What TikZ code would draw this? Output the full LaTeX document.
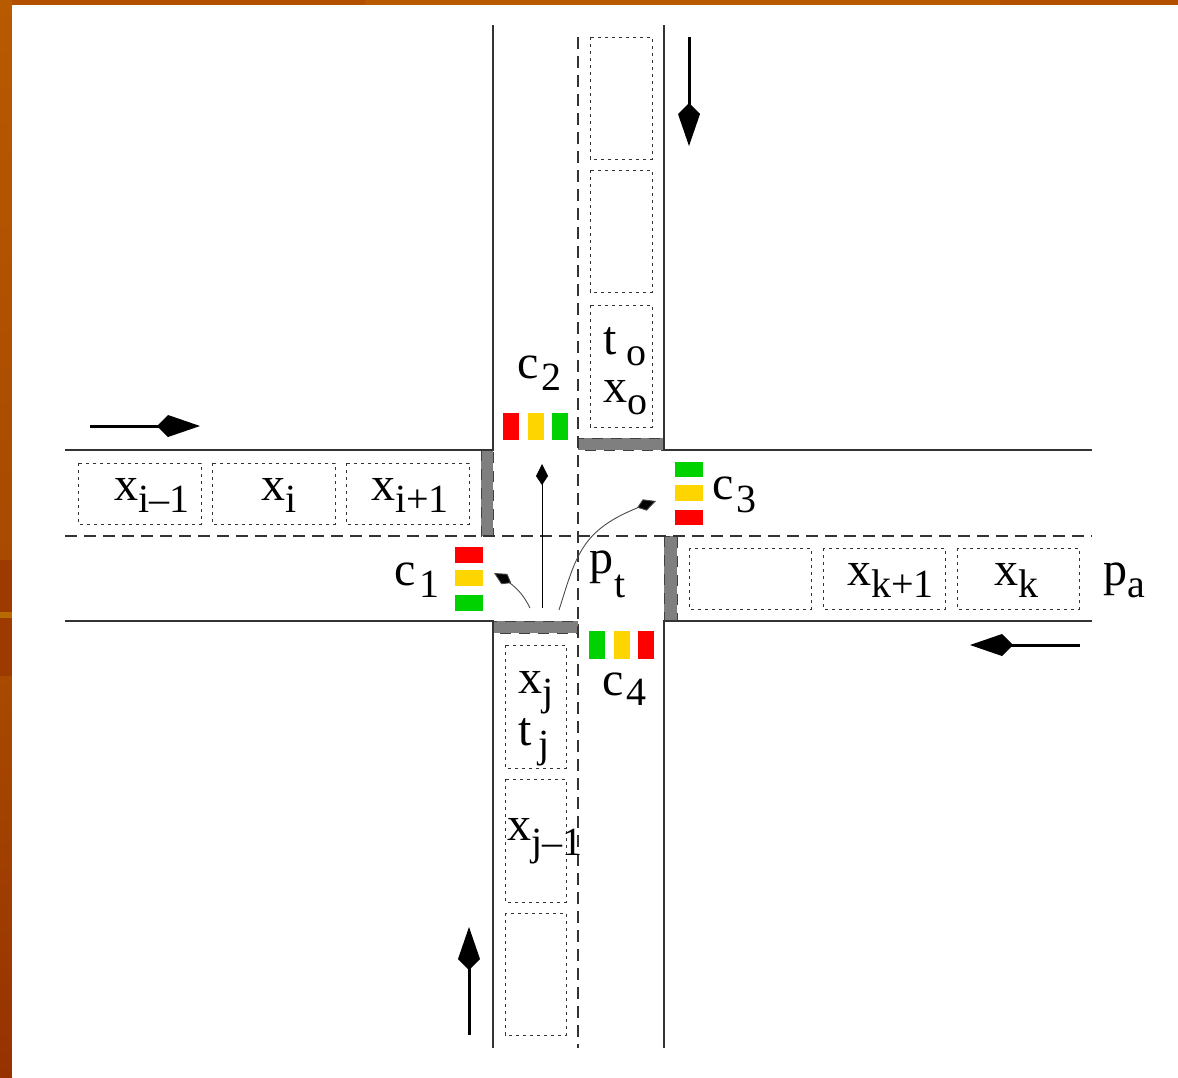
\documentclass[tikz,border=0pt]{standalone}
\usepackage{fontspec}
\setmainfont{Liberation Serif}
\usetikzlibrary{arrows.meta,bending}
\definecolor{bgt}{HTML}{B85A00}
\definecolor{bgo}{HTML}{B35000}
\definecolor{bgm}{HTML}{A84A00}
\definecolor{bgd}{HTML}{9C3A00}
\definecolor{bge}{HTML}{963200}
\definecolor{bgb}{HTML}{B86C00}
\definecolor{bgs}{HTML}{BA5A00}
\definecolor{tlred}{HTML}{FF0000}
\definecolor{tlyel}{HTML}{FFD500}
\definecolor{tlgrn}{HTML}{00D200}
\definecolor{stopg}{HTML}{7F7F7F}
\definecolor{roadc}{HTML}{333333}
\newcommand\subl[3]{\hspace{#1pt}\raisebox{-#2pt}{\fontsize{40}{40}\selectfont #3}}
\tikzset{
  x=1pt,y=-1pt,
  lab/.style={anchor=base west,inner sep=0pt,font=\fontsize{48}{48}\selectfont},
  road/.style={draw=roadc,line width=1.2pt},
  lane/.style={draw=roadc,line width=1.2pt,dash pattern=on 12pt off 7pt},
  stopbar/.style={fill=stopg,draw=black!75,line width=1pt,dash pattern=on 11pt off 8pt},
  cell/.style={draw=roadc,line width=1pt,dash pattern=on 3.2pt off 3.8pt},
  bigarrow/.style={draw=black,line width=3pt,-{Kite[length=43pt,width=22pt,inset=11pt,fill=black]}},
  thinarrow/.style={draw=black,line width=.9pt,-{Kite[length=21pt,width=12pt,inset=9pt,fill=black]}},
  curvearrow/.style={draw=black!70,line width=.9pt,-{Kite[length=20pt,width=12pt,inset=8pt,fill=black,flex=0.5]},shorten >=0pt},
  lampR/.style={fill=tlred,draw=none},
  lampY/.style={fill=tlyel,draw=none},
  lampG/.style={fill=tlgrn,draw=none}
}
\begin{document}
\begin{tikzpicture}
\useasboundingbox (0,0) rectangle (1178,1077);
% slide background
\fill[bgo] (0,0) rectangle (1178,1077);
\shade[top color=bgt,bottom color=bgm] (0,0) rectangle (12,560);
\fill[bgd] (0,560) rectangle (12,676);
\shade[top color=bgm,bottom color=bge] (0,676) rectangle (12,1077);
\fill[bgb] (0,612) rectangle (12,618);
\fill[bgs] (365,0) rectangle (1000,5);
\fill[white] (12,5) rectangle (1178,1077);
% stop bars
\path[stopbar] (578,438) rectangle (664,450);
\path[stopbar] (481,450) rectangle (493,536);
\path[stopbar] (664,536) rectangle (677,621);
\path[stopbar] (493,621) rectangle (578,633);
% roads
\draw[road] (493,25) -- (493,450) -- (65,450);
\draw[road] (664,25) -- (664,450) -- (1092,450);
\draw[road] (65,621) -- (493,621) -- (493,1048);
\draw[road] (1092,621) -- (664,621) -- (664,1048);
\draw[lane] (65,536) -- (1092,536);
\draw[lane] (578,37) -- (578,1048);
% cells
\foreach \n/\a/\b/\c/\d in {
 l1/78/463/201/524, l2/212/463/335/524, l3/346/463/469/524,
 r1/689/548/811/609, r2/823/548/945/609, r3/957/548/1079/609,
 t1/590/37/652/159, t2/590/170/652/292, t3/590/305/652/427,
 b1/505/645/566/768, b2/505/779/566/902, b3/505/913/566/1035}
  \path[cell] (\a,\b) rectangle (\c,\d);
% lights
\fill[lampR] (455,547) rectangle (483,563);
\fill[lampY] (455,570) rectangle (483,586);
\fill[lampG] (455,595) rectangle (483,611);
\fill[lampR] (503,413) rectangle (519,440);
\fill[lampY] (528,413) rectangle (544,440);
\fill[lampG] (552,413) rectangle (568,440);
\fill[lampG] (675,462) rectangle (703,477);
\fill[lampY] (675,485) rectangle (703,501);
\fill[lampR] (675,510) rectangle (703,525);
\fill[lampG] (589,631) rectangle (605,659);
\fill[lampY] (614,631) rectangle (630,659);
\fill[lampR] (638,631) rectangle (654,659);
% direction arrows
\coordinate (ea) at (90,426); \coordinate (eb) at (200,426);
\coordinate (sa) at (689,37); \coordinate (sb) at (689,146);
\coordinate (na) at (469,1035); \coordinate (nb) at (469,927);
\coordinate (wa) at (1080,645); \coordinate (wb) at (970,645);
\draw[bigarrow] (ea) -- (eb);
\draw[bigarrow] (sa) -- (sb);
\draw[bigarrow] (na) -- (nb);
\draw[bigarrow] (wa) -- (wb);
% turning arrows
\coordinate (ca) at (542,608); \coordinate (cb) at (542,464);
\coordinate (la) at (530,608); \coordinate (lb) at (494,573);
\coordinate (ra) at (559,610); \coordinate (rb) at (656,501);
\draw[thinarrow] (ca) -- (cb);
\draw[curvearrow] (la) .. controls (522,592) and (514,584) .. (lb);
\draw[curvearrow] (ra) .. controls (578,550) and (582,526) .. (rb);
% labels
\node[lab] (xim) at (114,500) {x\subl{0}{12}{i–1}};
\node[lab] (xi) at (261,500) {x\subl{0}{12}{i}};
\node[lab] (xip) at (371,500) {x\subl{0}{12}{i+1}};
\node[lab] (xkp) at (847,585) {x\subl{0}{12}{k+1}};
\node[lab] (xk) at (994,585) {x\subl{0}{12}{k}};
\node[lab] (pa) at (1103,585) {p\subl{0}{12}{a}};
\node[lab] (pt) at (589,573) {p\subl{1}{24}{t}};
\node[lab] (c1) at (394,585) {c\subl{4}{12}{1}};
\node[lab] (c2) at (517,378) {c\subl{3}{12}{2}};
\node[lab] (c3) at (712,499) {c\subl{3}{13}{3}};
\node[lab] (c4) at (602,695) {c\subl{3}{10}{4}};
\node[lab] (to) at (603,354) {t\subl{10}{11}{o}};
\node[lab] (xo) at (603,402) {x\subl{0}{12}{o}};
\node[lab] (xj) at (518,693) {x\subl{0}{12}{j}};
\node[lab] (tj) at (518,745) {t\subl{7}{12}{j}};
\node[lab] (xjm) at (507,840) {x\subl{0}{15}{j–1}};
\end{tikzpicture}
\end{document}
